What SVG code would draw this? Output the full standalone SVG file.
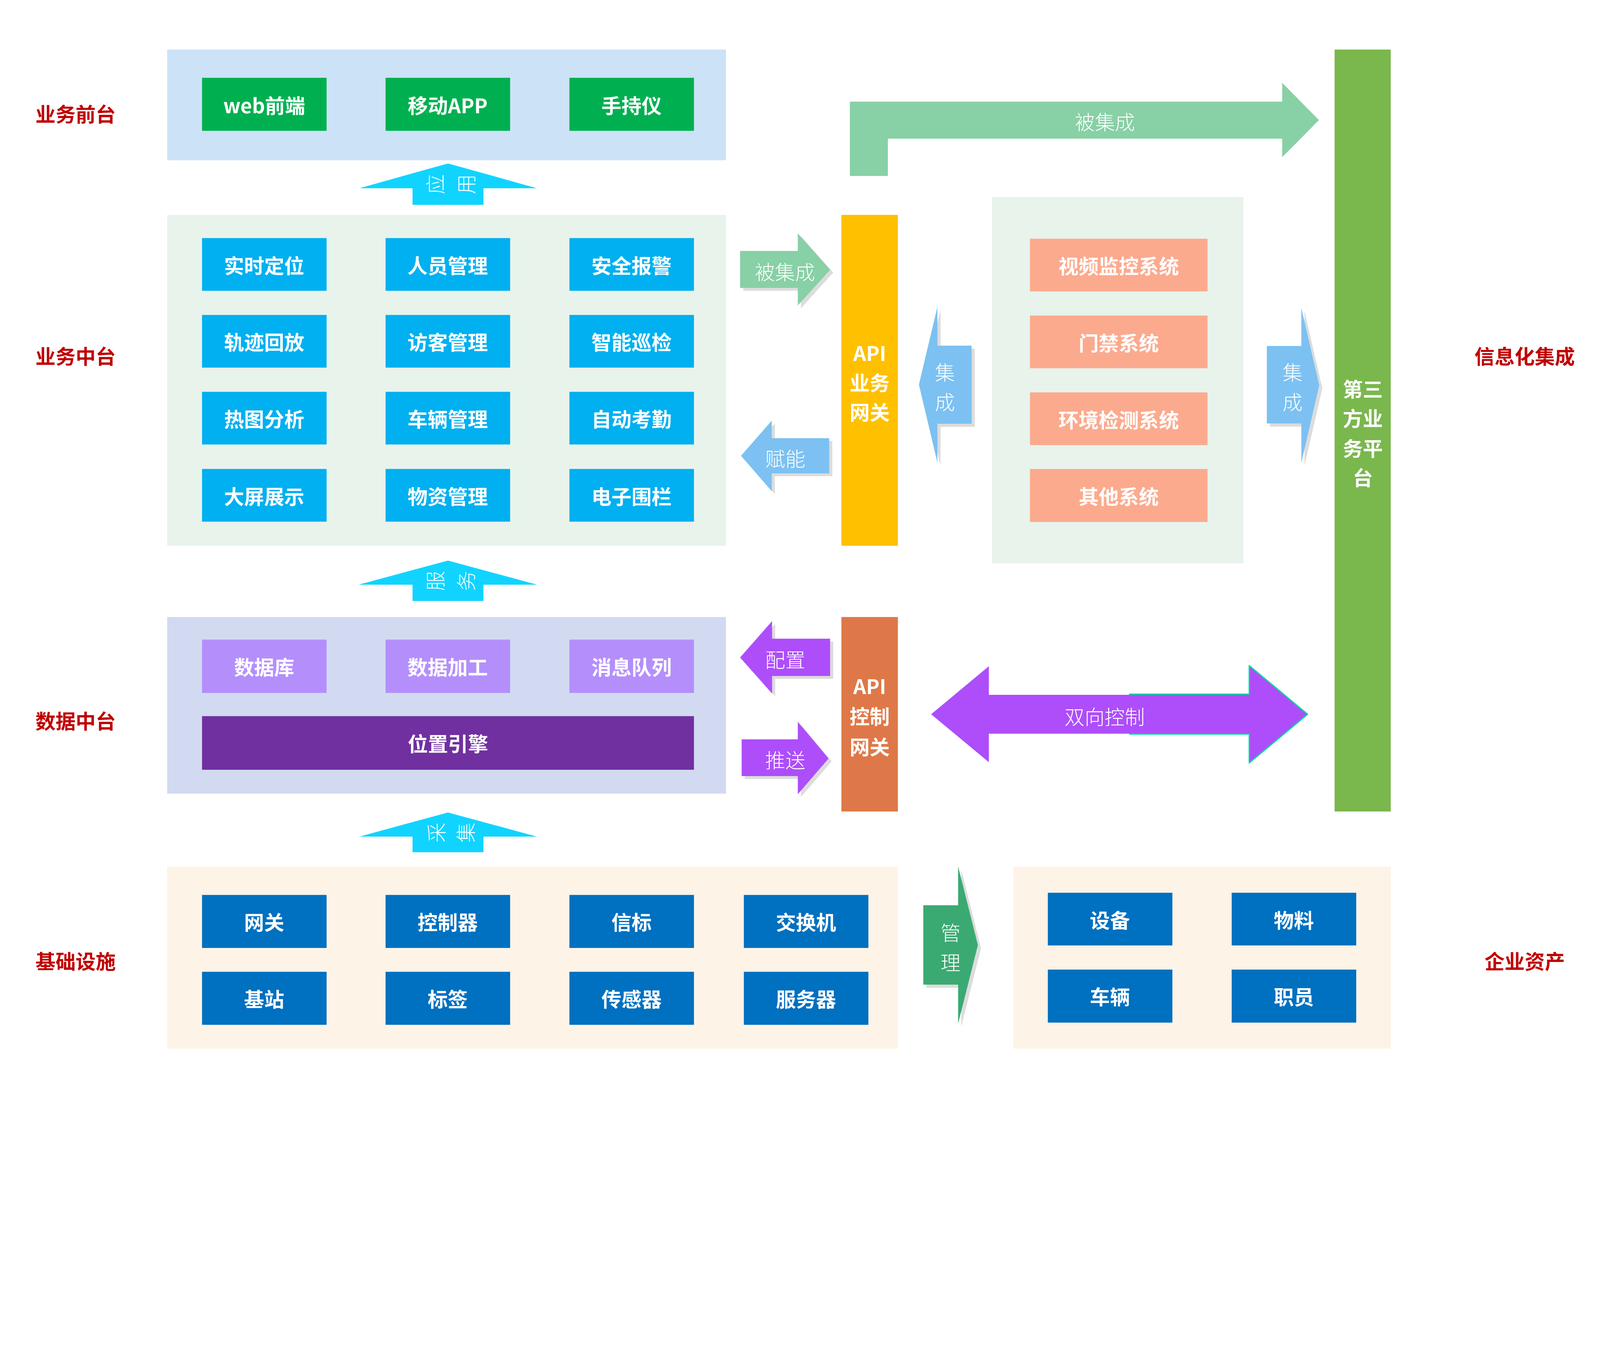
<svg xmlns="http://www.w3.org/2000/svg" width="5100" height="3500" viewBox="0 0 5100 3500" preserveAspectRatio="xMinYMin meet" style="width:100vw;height:100vh;display:block">
<style>
text{font-family:"Noto Sans CJK SC","Noto Sans",sans-serif;text-anchor:middle;dominant-baseline:central}
.b{font-weight:700;font-size:64px;fill:#fff}
.l{font-weight:300;font-size:64px;fill:#fff}
.lab{font-weight:700;font-size:64px;fill:#C00000}
.sh{fill:#DCDCDC}
.g{fill:#00B050}.c{fill:#00B0F0}.p{fill:#B48FFC}.dp{fill:#7030A0}.db{fill:#0070C0}.s{fill:#FBAA8E}
.up{fill:#10D4FF}
</style>
<rect width="5100" height="3500" fill="#fff"/>
<g id="labels">
<text class="lab" x="241" y="361">业务前台</text>
<text class="lab" x="241" y="1133">业务中台</text>
<text class="lab" x="241" y="2295">数据中台</text>
<text class="lab" x="241" y="3061">基础设施</text>
<text class="lab" x="4860" y="1133">信息化集成</text>
<text class="lab" x="4860" y="3061">企业资产</text>
</g>
<g id="front">
<rect x="533" y="158" width="1781" height="353" fill="#CCE2F7"/>
<g id="web"><rect class="g" x="644" y="248" width="397" height="169"/><text class="b" x="842" y="333">web前端</text></g>
<g id="app"><rect class="g" x="1229" y="248" width="397" height="169"/><text class="b" x="1427" y="333">移动APP</text></g>
<g id="handheld"><rect class="g" x="1815" y="248" width="397" height="169"/><text class="b" x="2013" y="333">手持仪</text></g>
</g>
<g id="middle">
<rect x="533" y="685" width="1781" height="1055" fill="#E8F3EC"/>
<g id="m1"><rect class="c" x="644" y="759" width="397" height="168"/><text class="b" x="842" y="843">实时定位</text></g>
<g id="m2"><rect class="c" x="1229" y="759" width="397" height="168"/><text class="b" x="1427" y="843">人员管理</text></g>
<g id="m3"><rect class="c" x="1815" y="759" width="397" height="168"/><text class="b" x="2013" y="843">安全报警</text></g>
<g id="m4"><rect class="c" x="644" y="1004" width="397" height="168"/><text class="b" x="842" y="1088">轨迹回放</text></g>
<g id="m5"><rect class="c" x="1229" y="1004" width="397" height="168"/><text class="b" x="1427" y="1088">访客管理</text></g>
<g id="m6"><rect class="c" x="1815" y="1004" width="397" height="168"/><text class="b" x="2013" y="1088">智能巡检</text></g>
<g id="m7"><rect class="c" x="644" y="1249" width="397" height="168"/><text class="b" x="842" y="1333">热图分析</text></g>
<g id="m8"><rect class="c" x="1229" y="1249" width="397" height="168"/><text class="b" x="1427" y="1333">车辆管理</text></g>
<g id="m9"><rect class="c" x="1815" y="1249" width="397" height="168"/><text class="b" x="2013" y="1333">自动考勤</text></g>
<g id="m10"><rect class="c" x="644" y="1495" width="397" height="168"/><text class="b" x="842" y="1579">大屏展示</text></g>
<g id="m11"><rect class="c" x="1229" y="1495" width="397" height="168"/><text class="b" x="1427" y="1579">物资管理</text></g>
<g id="m12"><rect class="c" x="1815" y="1495" width="397" height="168"/><text class="b" x="2013" y="1579">电子围栏</text></g>
</g>
<g id="data">
<rect x="533" y="1967" width="1781" height="563" fill="#D2DAF2"/>
<g id="d1"><rect class="p" x="644" y="2039" width="397" height="170"/><text class="b" x="842" y="2124">数据库</text></g>
<g id="d2"><rect class="p" x="1229" y="2039" width="397" height="170"/><text class="b" x="1427" y="2124">数据加工</text></g>
<g id="d3"><rect class="p" x="1815" y="2039" width="397" height="170"/><text class="b" x="2013" y="2124">消息队列</text></g>
<g id="engine"><rect class="dp" x="644" y="2283" width="1568" height="171"/><text class="b" x="1428" y="2368">位置引擎</text></g>
</g>
<g id="infra">
<rect x="533" y="2763" width="2328" height="580" fill="#FDF3E7"/>
<g id="i1"><rect class="db" x="644" y="2853" width="397" height="169"/><text class="b" x="842" y="2937">网关</text></g>
<g id="i2"><rect class="db" x="1229" y="2853" width="397" height="169"/><text class="b" x="1427" y="2937">控制器</text></g>
<g id="i3"><rect class="db" x="1815" y="2853" width="397" height="169"/><text class="b" x="2013" y="2937">信标</text></g>
<g id="i4"><rect class="db" x="2371" y="2853" width="397" height="169"/><text class="b" x="2569" y="2937">交换机</text></g>
<g id="i5"><rect class="db" x="644" y="3098" width="397" height="169"/><text class="b" x="842" y="3182">基站</text></g>
<g id="i6"><rect class="db" x="1229" y="3098" width="397" height="169"/><text class="b" x="1427" y="3182">标签</text></g>
<g id="i7"><rect class="db" x="1815" y="3098" width="397" height="169"/><text class="b" x="2013" y="3182">传感器</text></g>
<g id="i8"><rect class="db" x="2371" y="3098" width="397" height="169"/><text class="b" x="2569" y="3182">服务器</text></g>
</g>
<g id="systems">
<rect x="3162" y="628" width="801" height="1168" fill="#E8F3EC"/>
<g id="s1"><rect class="s" x="3283" y="761" width="566" height="168"/><text class="b" x="3566" y="845">视频监控系统</text></g>
<g id="s2"><rect class="s" x="3283" y="1006" width="566" height="168"/><text class="b" x="3566" y="1090">门禁系统</text></g>
<g id="s3"><rect class="s" x="3283" y="1251" width="566" height="168"/><text class="b" x="3566" y="1335">环境检测系统</text></g>
<g id="s4"><rect class="s" x="3283" y="1495" width="566" height="169"/><text class="b" x="3566" y="1579">其他系统</text></g>
</g>
<g id="assets">
<rect x="3230" y="2763" width="1203" height="580" fill="#FDF3E7"/>
<g id="a1"><rect class="db" x="3340" y="2846" width="397" height="168"/><text class="b" x="3538" y="2930">设备</text></g>
<g id="a2"><rect class="db" x="3926" y="2846" width="397" height="168"/><text class="b" x="4124" y="2930">物料</text></g>
<g id="a3"><rect class="db" x="3340" y="3091" width="397" height="169"/><text class="b" x="3538" y="3175">车辆</text></g>
<g id="a4"><rect class="db" x="3926" y="3091" width="397" height="169"/><text class="b" x="4124" y="3175">职员</text></g>
</g>
<g id="api-biz">
<rect x="2682" y="685" width="180" height="1055" fill="#FFC000"/>
<text class="b" x="2772" y="1122">API</text><text class="b" x="2772" y="1217">业务</text><text class="b" x="2772" y="1311">网关</text>
</g>
<g id="api-ctrl">
<rect x="2682" y="1967" width="180" height="620" fill="#DF7848"/>
<text class="b" x="2772" y="2185">API</text><text class="b" x="2772" y="2281">控制</text><text class="b" x="2772" y="2378">网关</text>
</g>
<g id="third">
<rect x="4254" y="158" width="179" height="2429" fill="#7AB74D"/>
<text class="b" x="4344" y="1237">第三</text><text class="b" x="4344" y="1331">方业</text><text class="b" x="4344" y="1426">务平</text><text class="b" x="4344" y="1520">台</text>
</g>
<g id="connectors">
<g id="up-app"><polygon class="up" points="1428,521 1711,600 1541,600 1541,653 1315,653 1315,600 1146,600"/>
<text class="l" transform="translate(1384,587) rotate(-90)">应</text><text class="l" transform="translate(1482,587) rotate(-90)">用</text></g>
<g id="up-svc"><polygon class="up" points="1428,1787 1712,1864 1541,1864 1541,1916 1315,1916 1315,1864 1143,1864"/>
<text class="l" transform="translate(1384,1852) rotate(-90)">服</text><text class="l" transform="translate(1482,1852) rotate(-90)">务</text></g>
<g id="up-col"><polygon class="up" points="1428,2590 1711,2667 1541,2667 1541,2717 1315,2717 1315,2667 1146,2667"/>
<text class="l" transform="translate(1388,2654) rotate(-90)">采</text><text class="l" transform="translate(1481,2654) rotate(-90)">集</text></g>
<g id="big-integrated"><polygon fill="#88D0A5" points="2709,561 2709,324 4087,324 4087,264 4204,383 4087,501 4087,442 2830,442 2830,561"/>
<text class="l" x="3522" y="385">被集成</text></g>
<g id="small-integrated">
<polygon class="sh" transform="translate(10,9)" points="2359,800 2543,800 2543,744 2646,860 2543,974 2543,918 2359,918"/>
<polygon fill="#88D0A5" points="2359,800 2543,800 2543,744 2646,860 2543,974 2543,918 2359,918"/>
<text class="l" x="2502" y="864">被集成</text></g>
<g id="empower">
<polygon class="sh" transform="translate(10,9)" points="2362,1453 2460,1341 2460,1397 2643,1397 2643,1509 2460,1509 2460,1566"/>
<polygon fill="#7CC1F2" points="2362,1453 2460,1341 2460,1397 2643,1397 2643,1509 2460,1509 2460,1566"/>
<text class="l" x="2503" y="1459">赋能</text></g>
<g id="integrate-left">
<polygon class="sh" transform="translate(10,10)" points="2988,978 2988,1102 3097,1102 3097,1351 2988,1351 2988,1475 2929,1226"/>
<polygon fill="#7CC1F2" points="2988,978 2988,1102 3097,1102 3097,1351 2988,1351 2988,1475 2929,1226"/>
<text class="l" x="3012" y="1184">集</text><text class="l" x="3012" y="1278">成</text></g>
<g id="integrate-right">
<polygon class="sh" transform="translate(10,10)" points="4038,1103 4148,1103 4148,982 4205,1228 4148,1475 4148,1350 4038,1350"/>
<polygon fill="#7CC1F2" points="4038,1103 4148,1103 4148,982 4205,1228 4148,1475 4148,1350 4038,1350"/>
<text class="l" x="4120" y="1184">集</text><text class="l" x="4120" y="1278">成</text></g>
<g id="config">
<polygon class="sh" transform="translate(10,9)" points="2359,2096 2461,1980 2461,2036 2646,2036 2646,2155 2461,2155 2461,2211"/>
<polygon fill="#AD4EFA" points="2359,2096 2461,1980 2461,2036 2646,2036 2646,2155 2461,2155 2461,2211"/>
<text class="l" x="2503" y="2100">配置</text></g>
<g id="push">
<polygon class="sh" transform="translate(10,9)" points="2364,2357 2543,2357 2543,2301 2641,2418 2543,2532 2543,2474 2364,2474"/>
<polygon fill="#AD4EFA" points="2364,2357 2543,2357 2543,2301 2641,2418 2543,2532 2543,2474 2364,2474"/>
<text class="l" x="2503" y="2420">推送</text></g>
<g id="bidirectional">
<polygon fill="#AD4EFA" points="2968,2277 3152,2124 3152,2215 3610,2215 3610,2339 3152,2339 3152,2430"/>
<polygon fill="#AD4EFA" points="3599,2213 3982,2213 3982,2122 4168,2277 3982,2432 3982,2340 3599,2340"/>
<polyline fill="none" stroke="#00D89C" stroke-width="4" stroke-linejoin="round" points="3599,2213 3982,2213 3982,2122 4168,2277 3982,2432 3982,2340 3599,2340"/>
<text class="l" x="3521" y="2282">双向控制</text></g>
<g id="manage">
<polygon class="sh" transform="translate(10,10)" points="2943,2886 3054,2886 3054,2762 3117,3013 3054,3263 3054,3139 2943,3139"/>
<polygon fill="#3BAA72" points="2943,2886 3054,2886 3054,2762 3117,3013 3054,3263 3054,3139 2943,3139"/>
<text class="l" x="3030" y="2970">管</text><text class="l" x="3030" y="3065">理</text></g>
</g>
</svg>
